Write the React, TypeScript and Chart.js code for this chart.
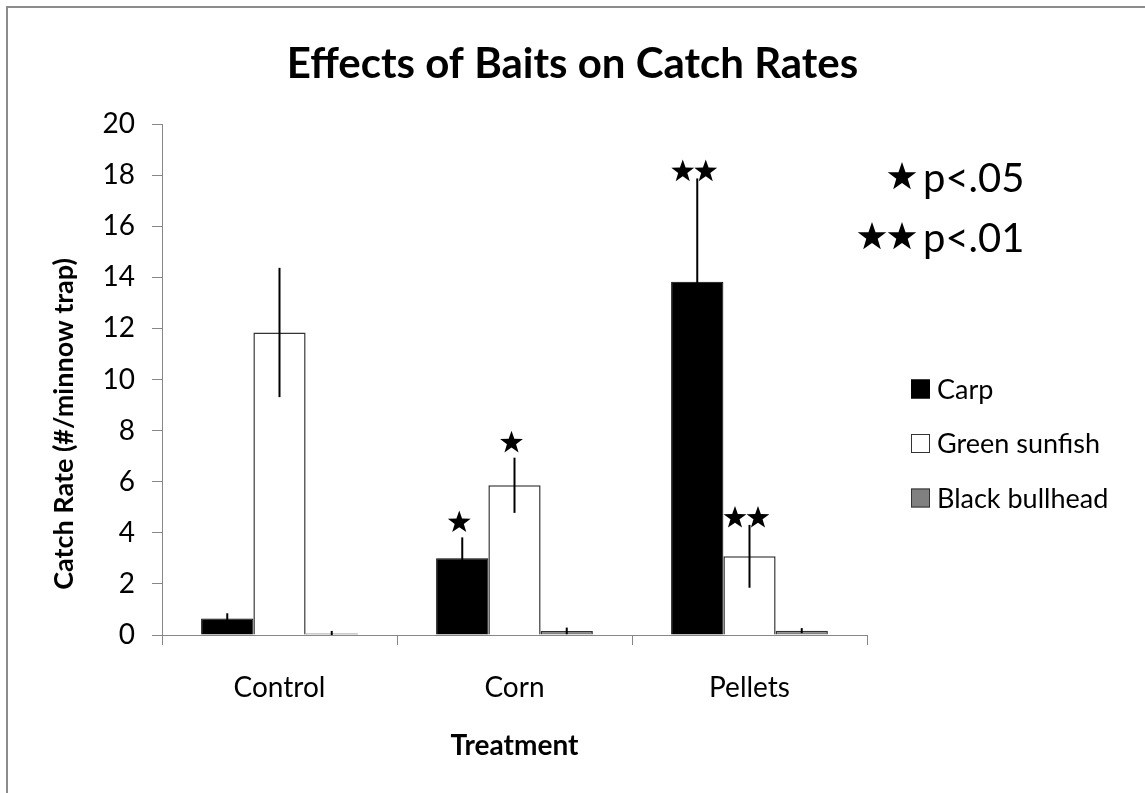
import { useEffect, useRef } from "react";
import { Chart, registerables } from "chart.js";

Chart.register(...registerables);

// ---------- data ----------
const categories = ["Control", "Corn", "Pellets"];
const seriesNames = ["Carp", "Green sunfish", "Black bullhead"];

const carp = [0.65, 3.0, 13.83];
const greenSunfish = [11.84, 5.86, 3.08];
const blackBullhead = [0.06, 0.16, 0.17];

const carpErr = [0.2, 0.82, 4.04];
const greenSunfishErr = [2.53, 1.08, 1.23];
const blackBullheadErr = [0.1, 0.13, 0.1];

// number of significance stars drawn above each bar
const carpSig = [0, 1, 2];
const greenSunfishSig = [0, 1, 2];
const blackBullheadSig = [0, 0, 0];

const sigLegendStars = [1, 2];
const sigLegendLabels = ["p<.05", "p<.01"];

const titleText = "Effects of Baits on Catch Rates";
const yTitleText = "Catch Rate (#/minnow trap)";
const xTitleText = "Treatment";

const Y_MIN = 0;
const Y_MAX = 20;
const Y_STEP = 2;

// ---------- style ----------
const FONT = "Lato, 'Open Sans', 'DejaVu Sans', sans-serif";
const AXIS_GRAY = "#878787";
const W = 1145;
const H = 793;

function drawStar(ctx: CanvasRenderingContext2D, cx: number, cy: number, r: number) {
  const inner = r * 0.4;
  ctx.beginPath();
  for (let k = 0; k < 10; k++) {
    const rad = k % 2 === 0 ? r : inner;
    const a = -Math.PI / 2 + (k * Math.PI) / 5;
    const x = cx + rad * Math.cos(a);
    const y = cy + rad * Math.sin(a);
    if (k === 0) ctx.moveTo(x, y);
    else ctx.lineTo(x, y);
  }
  ctx.closePath();
  ctx.fillStyle = "#000";
  ctx.fill();
}

const decorPlugin = {
  id: "decor",
  beforeDraw(chart: any) {
    const ctx: CanvasRenderingContext2D = chart.ctx;
    ctx.save();
    ctx.fillStyle = "#fff";
    ctx.fillRect(0, 0, chart.width, chart.height);
    // frame (top and left edges)
    ctx.fillStyle = "#8c8c8c";
    ctx.fillRect(6, 6, chart.width - 6, 2);
    ctx.fillRect(6, 6, 2, chart.height - 6);
    ctx.restore();
  },
  afterDatasetsDraw(chart: any) {
    const ctx: CanvasRenderingContext2D = chart.ctx;
    const yScale = chart.scales.y;
    ctx.save();
    chart.data.datasets.forEach((ds: any, i: number) => {
      const meta = chart.getDatasetMeta(i);
      meta.data.forEach((bar: any, j: number) => {
        const v = ds.data[j];
        const e = ds.errors[j];
        const yTop = yScale.getPixelForValue(v + e);
        const yBot = yScale.getPixelForValue(Math.max(0, v - e));
        ctx.beginPath();
        ctx.moveTo(bar.x, yTop);
        ctx.lineTo(bar.x, yBot);
        ctx.lineWidth = 2;
        ctx.strokeStyle = "#000";
        ctx.stroke();
        const n = ds.sig[j];
        if (n > 0) {
          const gap = n === 1 ? 15 : 7;
          const spacing = 23;
          const cx0 = bar.x - 3 - ((n - 1) * spacing) / 2;
          for (let s = 0; s < n; s++) {
            drawStar(ctx, cx0 + s * spacing, yTop - gap, 12);
          }
        }
      });
    });
    ctx.restore();
  },
  afterDraw(chart: any) {
    const ctx: CanvasRenderingContext2D = chart.ctx;
    const area = chart.chartArea;
    ctx.save();
    ctx.fillStyle = "#000";
    // title
    ctx.font = `bold 42px ${FONT}`;
    ctx.textAlign = "center";
    ctx.textBaseline = "alphabetic";
    ctx.fillText(titleText, chart.width / 2, 78);

    // x title
    ctx.font = `bold 28px ${FONT}`;
    ctx.fillText(xTitleText, (area.left + area.right) / 2, 755);

    // y title
    ctx.save();
    ctx.font = `bold 27px ${FONT}`;
    ctx.translate(73, 424);
    ctx.rotate(-Math.PI / 2);
    ctx.textAlign = "center";
    ctx.fillText(yTitleText, 0, 0);
    ctx.restore();

    // series legend
    const lx = 911;
    const ly0 = 389;
    const lstep = 54.5;
    const box = 19;
    chart.data.datasets.forEach((ds: any, i: number) => {
      const cy = ly0 + i * lstep;
      ctx.fillStyle = ds.backgroundColor;
      ctx.fillRect(lx, cy - box / 2, box, box);
      ctx.lineWidth = 1;
      ctx.strokeStyle = ds.borderColor;
      ctx.strokeRect(lx + 0.5, cy - box / 2 + 0.5, box - 1, box - 1);
      ctx.fillStyle = "#000";
      ctx.font = `27px ${FONT}`;
      ctx.textAlign = "left";
      ctx.textBaseline = "middle";
      ctx.fillText(ds.label, lx + box + 7, cy + 1);
    });

    // significance legend
    const starX = 902;
    const textX = 923;
    const sy0 = 177;
    const sstep = 60;
    sigLegendLabels.forEach((lab, i) => {
      const cy = sy0 + i * sstep;
      const n = sigLegendStars[i];
      for (let s = 0; s < n; s++) {
        drawStar(ctx, starX - s * 30, cy, 15);
      }
      ctx.fillStyle = "#000";
      ctx.font = `40px ${FONT}`;
      ctx.textAlign = "left";
      ctx.textBaseline = "alphabetic";
      ctx.fillText(lab, textX, cy + 15);
    });
    ctx.restore();
  },
};

export default function App() {
  const canvasRef = useRef<HTMLCanvasElement | null>(null);

  useEffect(() => {
    let chart: Chart | null = null;
    let cancelled = false;

    const build = () => {
      if (cancelled || !canvasRef.current) return;
      chart = new Chart(canvasRef.current, {
        type: "bar",
        data: {
          labels: categories,
          datasets: [
            {
              label: seriesNames[0],
              data: carp,
              errors: carpErr,
              sig: carpSig,
              backgroundColor: "#000000",
              borderColor: "#000000",
              borderWidth: 1,
            } as any,
            {
              label: seriesNames[1],
              data: greenSunfish,
              errors: greenSunfishErr,
              sig: greenSunfishSig,
              backgroundColor: "#ffffff",
              borderColor: "#333333",
              borderWidth: 1.5,
            } as any,
            {
              label: seriesNames[2],
              data: blackBullhead,
              errors: blackBullheadErr,
              sig: blackBullheadSig,
              backgroundColor: "#808080",
              borderColor: "#333333",
              borderWidth: 1.5,
            } as any,
          ],
        },
        options: {
          responsive: false,
          animation: false,
          devicePixelRatio: 1,
          layout: { padding: { left: 0, top: 124, right: W - 867, bottom: 0 } },
          datasets: {
            bar: { categoryPercentage: 0.667, barPercentage: 1.0 },
          },
          plugins: {
            legend: { display: false },
            title: { display: false },
            tooltip: { enabled: false },
          },
          scales: {
            x: {
              type: "category",
              offset: true,
              grid: {
                display: true,
                offset: true,
                drawOnChartArea: false,
                drawTicks: true,
                tickLength: 10,
                color: AXIS_GRAY,
                lineWidth: 1,
              },
              border: { display: true, color: AXIS_GRAY, width: 1 },
              ticks: {
                color: "#000",
                font: { family: FONT, size: 28 },
                padding: 26,
                maxRotation: 0,
              },
              afterFit: (scale: any) => {
                scale.height = H - 635;
              },
            },
            y: {
              min: Y_MIN,
              max: Y_MAX,
              grid: {
                display: true,
                drawOnChartArea: false,
                drawTicks: true,
                tickLength: 10,
                color: AXIS_GRAY,
                lineWidth: 1,
              },
              border: { display: true, color: AXIS_GRAY, width: 1 },
              ticks: {
                stepSize: Y_STEP,
                color: "#000",
                font: { family: FONT, size: 28 },
                padding: 17,
              },
              afterFit: (scale: any) => {
                scale.width = 162;
              },
            },
          },
        } as any,
        plugins: [decorPlugin],
      });
    };

    const fontsApi: any = (document as any).fonts;
    if (fontsApi && fontsApi.load) {
      Promise.all([
        fontsApi.load(`28px Lato`),
        fontsApi.load(`bold 28px Lato`),
      ])
        .catch(() => null)
        .then(() => build());
    } else {
      build();
    }

    return () => {
      cancelled = true;
      if (chart) chart.destroy();
    };
  }, []);

  return (
    <div style={{ position: "absolute", left: 0, top: 0, width: W, height: H, background: "#fff" }}>
      <canvas ref={canvasRef} width={W} height={H} style={{ display: "block", width: W, height: H }} />
    </div>
  );
}
